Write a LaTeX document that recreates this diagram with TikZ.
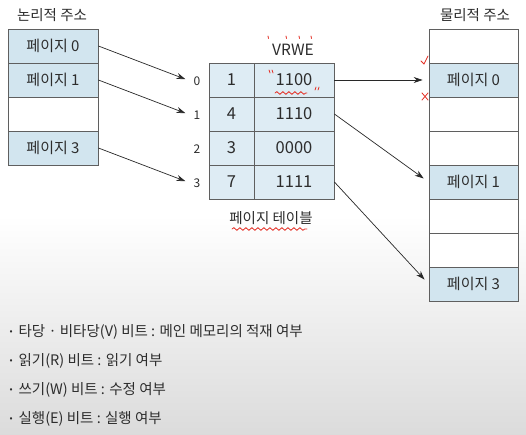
\documentclass[tikz,border=0pt]{standalone}
\usepackage{fontspec}
\setmainfont{Noto Sans CJK KR}
\usetikzlibrary{arrows.meta,decorations.pathmorphing}
\definecolor{pageblue}{RGB}{210,229,239}
\definecolor{cellblue}{RGB}{222,236,244}
\definecolor{linegray}{RGB}{95,95,95}
\definecolor{arrowgray}{RGB}{40,40,40}
\definecolor{markred}{RGB}{228,45,35}
\definecolor{textgray}{RGB}{45,45,45}
\begin{document}
\begin{tikzpicture}[x=1pt,y=-1pt,
  cell/.style={draw=linegray, line width=0.8pt, inner sep=0pt, minimum height=34pt, text=textgray, font=\fontsize{15}{15}\selectfont},
  page/.style={cell, fill=pageblue},
  blank/.style={cell, fill=white},
  entry/.style={cell, fill=cellblue, font=\fontsize{16.5}{16.5}\selectfont},
  idx/.style={text=textgray, font=\fontsize{12}{12}\selectfont},
  title/.style={text=textgray, font=\fontsize{14.5}{14.5}\selectfont},
  desc/.style={anchor=west, text=textgray, font=\fontsize{14.5}{14.5}\selectfont},
  arr/.style={draw=arrowgray, line width=0.7pt, -{Stealth[length=9pt,width=6pt]}},
  redmark/.style={draw=markred, line width=0.8pt, line cap=round},
  squiggle/.style={redmark, decorate, decoration={snake, amplitude=1.3pt, segment length=6pt}}]
\useasboundingbox (0,0) rectangle (526,435);
\fill[white] (0,0) rectangle (526,435);
\shade[top color=white, bottom color=black!14] (0,215) rectangle (526,435);
% logical address
\node[title] (ltitle) at (52,15) {논리적 주소};
\foreach \i/\txt/\sty in {0/페이지 0/page,1/페이지 1/page,2//blank,3/페이지 3/page}
  \node[\sty, minimum width=90pt] (l\i) at (53,46+34*\i) {\txt};
% page table
\node[title, font=\fontsize{15.5}{15.5}\selectfont] (vrwe) at (293,50) {VRWE};
\foreach \i/\f/\b in {0/1/1100,1/4/1110,2/3/0000,3/7/1111}{
  \node[entry, minimum width=45pt] (f\i) at (231.5,80+34*\i) {\f};
  \node[entry, minimum width=80pt] (b\i) at (294,80+34*\i) {\b};
  \node[idx] (n\i) at (197,81+34*\i) {\i};
}
\node[title] (ptable) at (271,218) {페이지 테이블};
% physical address
\node[title] (ptitle) at (475,15) {물리적 주소};
\foreach \i/\txt/\sty in {0//blank,1/페이지 0/page,2//blank,3//blank,4/페이지 1/page,5//blank,6//blank,7/페이지 3/page}
  \node[\sty, minimum width=89pt] (m\i) at (473.5,46+34*\i) {\txt};
% arrows
\foreach \a/\b in {l0/n0,l1/n1,l3/n3}
  \draw[arr, shorten >=5pt] (\a.east) -- (\b.west);
\foreach \a/\b in {b0/m1,b1/m4,b3/m7}
  \draw[arr, shorten >=6pt] (\a.east) -- (\b.west);
% red marks
\draw[redmark] (421,61) -- (424,64) -- (428,56);
\draw[redmark] (422,93) -- (428,100) (428,93) -- (422,100);
\draw[squiggle] (275,93) -- (307,93);
\draw[squiggle] (232,229) -- (307,229);
\draw[redmark] (269,70) -- (270,73) (272,70) -- (273,73) (316,87) -- (315,90) (319,87) -- (318,90);
\foreach \x in {268,286,299,311}
  \draw[redmark] (\x,36) -- (\x+0.5,38.5);
% description
\foreach \i/\txt in {0/{타당 · 비타당(V) 비트 : 메인 메모리의 적재 여부},1/{읽기(R) 비트 : 읽기 여부},2/{쓰기(W) 비트 : 수정 여부},3/{실행(E) 비트 : 실행 여부}}
  \node[desc] (d\i) at (6,332+29*\i) {\raisebox{2pt}{\fontsize{9}{9}\selectfont•}\hspace{6pt}\txt};
\end{tikzpicture}
\end{document}
